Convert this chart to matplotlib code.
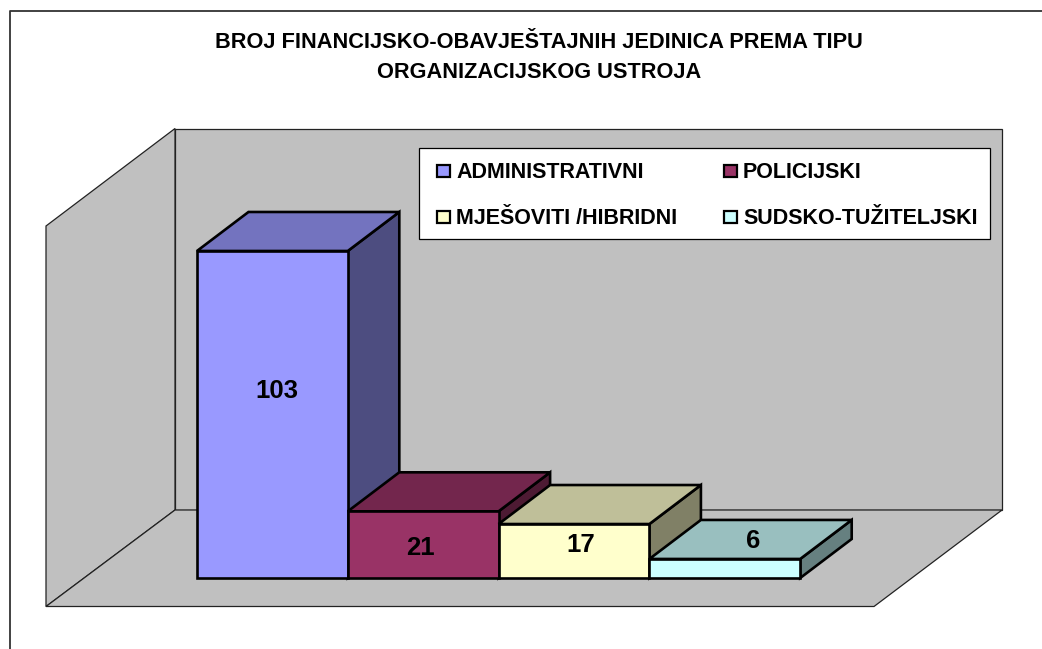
import matplotlib
matplotlib.use("Agg")
import matplotlib.pyplot as plt
from matplotlib.patches import Polygon, Rectangle

plt.rcParams['font.family'] = ['Liberation Sans', 'DejaVu Sans']

title = "BROJ FINANCIJSKO-OBAVJEŠTAJNIH JEDINICA PREMA TIPU\nORGANIZACIJSKOG USTROJA"
categories = ["ADMINISTRATIVNI", "POLICIJSKI", "MJEŠOVITI /HIBRIDNI", "SUDSKO-TUŽITELJSKI"]
values = [103, 21, 17, 6]
front_colors = ['#9999FF', '#993366', '#FFFFCC', '#CCFFFF']
top_colors = ['#7373BF', '#73264D', '#BFBF99', '#99BFBF']
side_colors = ['#4D4D80', '#4D1A33', '#808066', '#668080']

# chart geometry in pixels of the 1042x649 image
bar_left = 197
bar_width = 150.8
base_y = 578
px_per_unit = 3.175
depth_x = 51.5
depth_y = -39

fig = plt.figure(figsize=(10.42, 6.49), dpi=100)
ax = fig.add_axes([0, 0, 1, 1])
ax.set_xlim(0, 1042)
ax.set_ylim(649, 0)
ax.axis('off')


def poly(points, color, lw=1.0, edge='#000000', z=1):
    ax.add_patch(Polygon(points, closed=True, facecolor=color, edgecolor=edge,
                         linewidth=lw, joinstyle='miter', zorder=z))


# outer frame, only top and left are inside the image
ax.plot([9.5, 9.5, 1042], [649, 11, 11], color='#333333', lw=1.3, zorder=0)

# walls and floor
poly([(175, 128.5), (1002, 128.5), (1002, 510), (175, 510)], '#C0C0C0', lw=0.9, edge='#222222')
poly([(46, 226), (175, 128.5), (175, 510), (46, 606.5)], '#C0C0C0', lw=0.9, edge='#222222')
poly([(46, 606.5), (175, 510), (1002, 510), (874, 606.5)], '#C0C0C0', lw=0.9, edge='#222222')

# bars
for i, v in enumerate(values):
    x0 = bar_left + i * bar_width
    x1 = x0 + bar_width
    y_top = base_y - v * px_per_unit
    z = 2 + i
    poly([(x1, y_top), (x1 + depth_x, y_top + depth_y), (x1 + depth_x, base_y + depth_y), (x1, base_y)],
         side_colors[i], lw=1.9, z=z)
    poly([(x0, y_top), (x0 + depth_x, y_top + depth_y), (x1 + depth_x, y_top + depth_y), (x1, y_top)],
         top_colors[i], lw=1.9, z=z)
    poly([(x0, y_top), (x1, y_top), (x1, base_y), (x0, base_y)], front_colors[i], lw=1.9, z=z)

# value labels
label_pos = [(277, 391), (420, 548), (581, 545), (753, 541)]
for v, (lx, ly) in zip(values, label_pos):
    ax.text(lx, ly, str(v), ha='center', va='center', fontsize=18.5, fontweight='bold', zorder=10)

# title
ax.text(539, 57.5, title, ha='center', va='center', fontsize=15.7, fontweight='bold',
        linespacing=1.6, zorder=10)

# legend box
ax.add_patch(Rectangle((419, 148), 571, 91, facecolor='white', edgecolor='#000000', lw=0.9, zorder=11))
legend_x = [437, 724]
legend_y = [171, 217]
for i, name in enumerate(categories):
    lx = legend_x[i % 2]
    ly = legend_y[i // 2]
    ax.add_patch(Rectangle((lx, ly - 6), 13, 12, facecolor=front_colors[i], edgecolor='#000000',
                           lw=1.6, zorder=12))
    ax.text(lx + 19, ly + 2, name, ha='left', va='center', fontsize=15.5, fontweight='bold', zorder=12)

fig.savefig('out.png', dpi=100)
